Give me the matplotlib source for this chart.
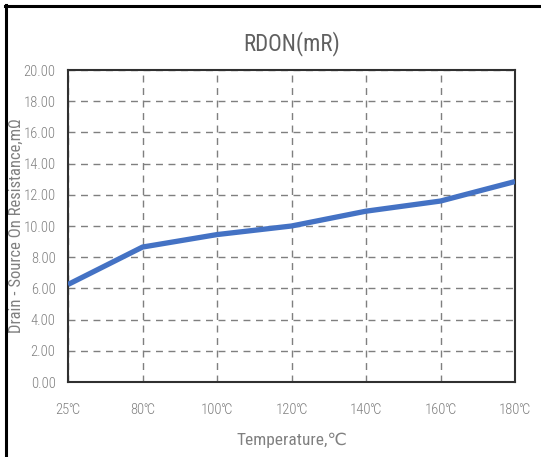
import matplotlib
matplotlib.use("Agg")
import matplotlib.pyplot as plt
from matplotlib.lines import Line2D

temps = ["25℃", "80℃", "100℃", "120℃", "140℃", "160℃", "180℃"]
rdon = [6.25, 8.65, 9.45, 10.0, 10.95, 11.6, 12.85]
yticks = [0, 2, 4, 6, 8, 10, 12, 14, 16, 18, 20]

plt.rcParams['font.family'] = ['Liberation Sans Narrow', 'Roboto Condensed', 'Open Sans Condensed',
                               'Lato', 'DejaVu Sans']
plt.rcParams['font.weight'] = 'light'
txt = '#808080'

fig = plt.figure(figsize=(5.41, 4.57), dpi=100)
ax = fig.add_axes([68 / 541, 1 - 382 / 457, (515 - 68) / 541, (382 - 70) / 457])

x = list(range(len(temps)))
ax.plot(x, rdon, color='#4472C4', linewidth=3.8, solid_capstyle='butt', zorder=3)

ax.set_xlim(0, len(temps) - 1)
ax.set_ylim(0, 20)
ax.set_xticks(x)
ax.set_xticklabels(temps)
ax.set_yticks(yticks)
ax.set_yticklabels([f"{v:.2f}" for v in yticks])
ax.tick_params(axis='both', length=0, labelsize=10.5, colors=txt)
ax.tick_params(axis='y', pad=9)
ax.tick_params(axis='x', pad=15)

ax.grid(True, color='#7f7f7f', linestyle=(0, (5, 4)), linewidth=1.0)
ax.set_axisbelow(True)
for s in ax.spines.values():
    s.set_color('#303030')
    s.set_linewidth(1.5)

ax.set_title("RDON(mR)", fontsize=16.5, color='#606060', pad=14)
ax.set_xlabel("Temperature,℃", fontsize=12.5, color=txt, labelpad=11)
ax.set_ylabel("Drain - Source On Resistance,mΩ", fontsize=12, color=txt)
ax.yaxis.set_label_coords(-0.098, 0.5)

# outer frame lines (left and top)
fig.add_artist(Line2D([6 / 541, 6 / 541], [0, 1 - 5 / 457], color='black', linewidth=2.2))
fig.add_artist(Line2D([5 / 541, 1], [1 - 6 / 457, 1 - 6 / 457], color='black', linewidth=2.2))

fig.savefig("out.png", dpi=100)
